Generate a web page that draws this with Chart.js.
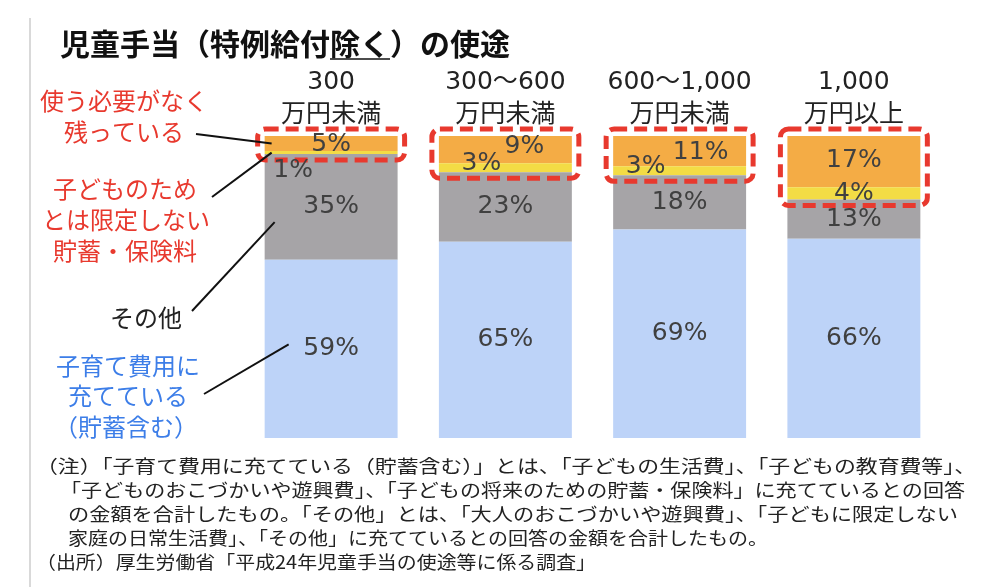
<!DOCTYPE html>
<html lang="ja">
<head>
<meta charset="utf-8">
<title>児童手当（特例給付除く）の使途</title>
<script src="https://cdn.jsdelivr.net/npm/chart.js@4.4.1/dist/chart.umd.min.js"></script>
<style>
  html, body { margin: 0; padding: 0; background: #fff; }
  #wrap { width: 990px; height: 587px; position: relative; }
</style>
</head>
<body>
<div id="wrap"><canvas id="myChart" width="990" height="587"></canvas></div>
<script>
// 所得階級
var categories = [['300', '万円未満'], ['300～600', '万円未満'], ['600～1,000', '万円未満'], ['1,000', '万円以上']];
// 使途の内訳（%）
var kosodate = [59, 65, 69, 66];   // 子育て費用に充てている（貯蓄含む）
var sonota = [35, 23, 18, 13];     // その他
var chochiku = [1, 3, 3, 4];       // 子どものためとは限定しない貯蓄・保険料
var nokori = [5, 9, 11, 17];       // 使う必要がなく残っている

var title = '児童手当（特例給付除く）の使途';
var notes = [
  '（注）「子育て費用に充てている（貯蓄含む）」とは、「子どもの生活費」、「子どもの教育費等」、',
  '「子どものおこづかいや遊興費」、「子どもの将来のための貯蓄・保険料」に充てているとの回答',
  'の金額を合計したもの。「その他」とは、「大人のおこづかいや遊興費」、「子どもに限定しない',
  '家庭の日常生活費」、「その他」に充てているとの回答の金額を合計したもの。',
  '（出所）厚生労働省「平成24年児童手当の使途等に係る調査」'
];

var JP = '"Noto Sans CJK JP", "Noto Sans", sans-serif';
var NUM = '"DejaVu Sans", "Noto Sans CJK JP", sans-serif';
var RED = '#e8392e';

// ラベルの位置の微調整 [dx, dy]（データセット順）
var labelShift = [
  [[0, 0], [0, 0], [0, 0], [0, 0]],
  [[0, 0], [0, 0], [0, 0], [0, 0]],
  [[-38, 18], [-24, -4], [-34, -4], [0, 0]],
  [[0, 1], [19, -3], [21, 1], [0, -1]]
];

var decorations = {
  id: 'decorations',
  beforeDraw: function(chart) {
    var c = chart.ctx;
    c.save();
    // left rule
    c.strokeStyle = '#d9d9d9';
    c.lineWidth = 2;
    c.beginPath(); c.moveTo(30, 18); c.lineTo(30, 587); c.stroke();
    // title
    c.fillStyle = '#111';
    c.font = 'bold 30px ' + JP;
    c.textBaseline = 'middle';
    c.textAlign = 'left';
    c.fillText(title, 60, 44);
    var pre = c.measureText('児童手当（特例給付').width;
    var ul = c.measureText('除く').width;
    c.strokeStyle = '#111'; c.lineWidth = 1.5;
    c.beginPath(); c.moveTo(60 + pre, 59); c.lineTo(60 + pre + ul, 59); c.stroke();
    c.restore();
  },
  afterDatasetsDraw: function(chart) {
    var c = chart.ctx;
    var y = chart.scales.y;
    var area = chart.chartArea;
    c.save();
    // category labels above bars
    var meta0 = chart.getDatasetMeta(0);
    c.fillStyle = '#222';
    c.textAlign = 'center';
    c.textBaseline = 'middle';
    meta0.data.forEach(function(bar, i) {
      c.font = '25px ' + NUM;
      c.fillText(categories[i][0], bar.x, 82);
      c.font = '25px ' + JP;
      c.fillText(categories[i][1], bar.x, 112);
    });
    // dashed boxes round the top segments
    c.strokeStyle = RED;
    c.lineWidth = 5;
    c.setLineDash([13, 7]);
    meta0.data.forEach(function(bar, i) {
      var left = bar.x - bar.width / 2 - 7;
      var w = bar.width + 14;
      var top = area.top - 7;
      var bottom = y.getPixelForValue(kosodate[i] + sonota[i]) + 6;
      c.beginPath();
      c.roundRect(left, top, w, bottom - top, 8);
      c.stroke();
    });
    c.setLineDash([]);
    // value labels
    c.fillStyle = '#404040';
    c.font = '25px ' + NUM;
    chart.data.datasets.forEach(function(ds, di) {
      chart.getDatasetMeta(di).data.forEach(function(bar, i) {
        var s = labelShift[di][i];
        var cy = (Math.max(bar.y, area.top) + bar.base) / 2;
        c.fillText(ds.data[i] + '%', bar.x + s[0], cy + s[1]);
      });
    });
    // left annotations
    c.font = '24px ' + JP;
    c.fillStyle = RED;
    c.fillText('使う必要がなく', 124, 101);
    c.fillText('残っている', 124, 132);
    c.fillText('子どものため', 125, 189);
    c.fillText('とは限定しない', 126, 220);
    c.fillText('貯蓄・保険料', 125, 251);
    c.fillStyle = '#222';
    c.fillText('その他', 146, 318);
    c.fillStyle = '#3d7ee8';
    c.fillText('子育て費用に', 128, 366);
    c.fillText('充てている', 128, 396);
    c.fillText('（貯蓄含む）', 126, 427);
    // leader lines to the first bar
    var b = meta0.data[0];
    var bl = b.x - b.width / 2;
    c.strokeStyle = '#111';
    c.lineWidth = 2;
    var leaders = [
      [196, 134, bl + 7, y.getPixelForValue(97.5)],
      [212, 197, bl + 7, y.getPixelForValue(94.5)],
      [192, 311, bl + 10, y.getPixelForValue(71.5)],
      [204, 394, bl + 24, y.getPixelForValue(31)]
    ];
    leaders.forEach(function(l) {
      c.beginPath(); c.moveTo(l[0], l[1]); c.lineTo(l[2], l[3]); c.stroke();
    });
    // notes
    c.fillStyle = '#222';
    c.font = '18px ' + JP;
    c.textAlign = 'left';
    var noteX = [36, 60, 68, 68, 36];
    var noteW = [940, 905, 890, 700, 560];
    notes.forEach(function(t, i) {
      var nat = c.measureText(t).width;
      c.save();
      c.translate(noteX[i], 466 + i * 24);
      c.scale(noteW[i] / nat, 1);
      c.fillText(t, 0, 0);
      c.restore();
    });
    c.restore();
  }
};

var ctx = document.getElementById('myChart');

var graphique = new Chart(ctx.getContext('2d'), {
  type: 'bar',
  data: {
    labels: categories.map(function(c) { return c.join(''); }),
    datasets: [
      { label: '子育て費用に充てている（貯蓄含む）', data: kosodate, backgroundColor: '#bdd3f8' },
      { label: 'その他', data: sonota, backgroundColor: '#a6a4a7' },
      { label: '子どものためとは限定しない貯蓄・保険料', data: chochiku, backgroundColor: '#f3dc45' },
      { label: '使う必要がなく残っている', data: nokori, backgroundColor: '#f4ac45' }
    ]
  },
  options: {
    responsive: false,
    animation: false,
    layout: { padding: { left: 244, right: 49, top: 136, bottom: 149 } },
    datasets: { bar: { categoryPercentage: 1, barPercentage: 0.763, borderWidth: 0 } },
    scales: {
      x: { stacked: true, display: false },
      y: { stacked: true, display: false, min: 0, max: 100 }
    },
    plugins: {
      legend: { display: false },
      tooltip: { enabled: false }
    }
  },
  plugins: [decorations]
});
</script>
</body>
</html>
